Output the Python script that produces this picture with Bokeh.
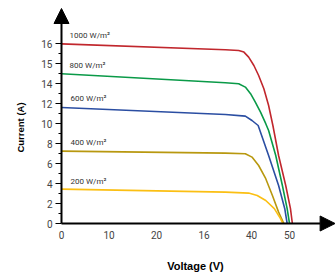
from bokeh.plotting import figure
from bokeh.models import (Range1d, FixedTicker, Arrow, NormalHead, Label,
                          ColumnDataSource)
from bokeh.core.properties import value
from bokeh.embed import file_html
from bokeh.resources import INLINE

# ---- data (x in axis units, y in axis position units) ----
irradiance_labels = ["1000 W/m²", "800 W/m²", "600 W/m²", "400 W/m²", "200 W/m²"]
colors = ["#c1272d", "#0a9a48", "#2b4ea2", "#b8980f", "#fbbf13"]

v_1000 = [0, 34.5, 37.3, 38.4, 39.4, 40.5, 41.5, 42.6, 43.6, 44.5, 45.7, 47.2, 48.2, 48.6]
i_1000 = [8.98, 8.69, 8.65, 8.57, 8.32, 7.9, 7.4, 6.74, 5.9, 4.9, 3.4, 1.9, 0.74, 0]

v_800 = [0, 34.5, 37.3, 38.7, 39.8, 40.8, 41.9, 43.0, 43.6, 45.1, 46.5, 47.5, 48.0]
i_800 = [7.49, 7.04, 6.99, 6.82, 6.49, 6.07, 5.57, 4.99, 4.65, 3.4, 1.9, 0.74, 0]

v_600 = [0, 34.5, 38.7, 40.1, 41.4, 43.6, 45.7, 47.0, 47.5]
i_600 = [5.8, 5.45, 5.37, 5.15, 4.9, 3.4, 1.9, 0.74, 0]

v_400 = [0, 34.5, 38.7, 40.1, 41.5, 43.0, 44.4, 45.7, 46.8]
i_400 = [3.62, 3.52, 3.49, 3.32, 2.9, 2.24, 1.4, 0.57, 0]

v_200 = [0, 34.5, 39.4, 41.2, 43.0, 44.8, 46.1, 46.6]
i_200 = [1.72, 1.57, 1.52, 1.4, 1.15, 0.74, 0.24, 0]

label_x = [1.7, 1.7, 1.9, 1.9, 1.9]
label_y = [9.4, 7.9, 6.25, 4.05, 2.1]

y_tick_pos = [0, 1, 2, 3, 4, 5, 6, 7, 8, 9]
y_tick_labels = ["0", "2", "4", "6", "8", "10", "12", "14", "15", "16"]
x_tick_pos = [0, 10, 20, 30, 40, 48]
x_tick_labels = ["0", "10", "20", "16", "40", "50"]

x_title = "Voltage (V)"
y_title = "Current (A)"

# ---- figure ----
p = figure(width=335, height=275, output_backend="svg", toolbar_location=None,
           x_range=Range1d(-12.84, 57.68), y_range=Range1d(-2.6, 11.15),
           min_border_left=0, min_border_right=0, min_border_top=0,
           min_border_bottom=0)
p.outline_line_color = None
p.grid.visible = False
p.background_fill_color = "white"
p.border_fill_color = "white"

series = [(v_1000, i_1000), (v_800, i_800), (v_600, i_600), (v_400, i_400), (v_200, i_200)]
for (vx, iy), c in zip(series, colors):
    p.line(vx, iy, line_color=c, line_width=1.6)

src = ColumnDataSource(dict(x=label_x, y=label_y, t=irradiance_labels))
p.text(x="x", y="y", text="t", source=src, text_font=value("Roboto"),
       text_font_size="8px", text_color="#333333", text_baseline="middle",
       text_align="left")

# left axis, fixed at x = 0
ya = p.yaxis[0]
ya.fixed_location = 0
ya.ticker = FixedTicker(ticks=y_tick_pos,
                        minor_ticks=[0.5, 1.5, 2.5, 3.5, 4.5, 5.5, 6.5, 7.5, 8.5])
ya.major_label_overrides = {k: v for k, v in zip(y_tick_pos, y_tick_labels)}
ya.axis_line_color = None
ya.major_tick_out = 6
ya.major_tick_in = 0
ya.minor_tick_out = 3
ya.minor_tick_in = 0
ya.major_tick_line_color = "black"
ya.minor_tick_line_color = "black"
ya.major_label_standoff = 3
ya.major_label_text_font = "Roboto"
ya.major_label_text_font_size = "10px"
ya.major_label_text_color = "#444444"

# bottom axis, fixed at y = 0
xa = p.xaxis[0]
xa.fixed_location = 0
xa.ticker = FixedTicker(ticks=x_tick_pos, minor_ticks=[])
xa.major_label_overrides = {k: v for k, v in zip(x_tick_pos, x_tick_labels)}
xa.axis_line_color = None
xa.major_tick_out = 0
xa.major_tick_in = 0
xa.minor_tick_out = 0
xa.minor_tick_in = 0
xa.major_tick_line_color = None
xa.minor_tick_line_color = None
xa.major_label_standoff = 7
xa.major_label_text_font = "Roboto"
xa.major_label_text_font_size = "10px"
xa.major_label_text_color = "#444444"

# axis arrows
p.add_layout(Arrow(end=NormalHead(size=15, fill_color="black", line_color="black"),
                   x_start=0, y_start=0, x_end=0, y_end=10.75,
                   line_width=2, line_color="black"))
p.add_layout(Arrow(end=NormalHead(size=15, fill_color="black", line_color="black"),
                   x_start=0, y_start=0, x_end=57.6, y_end=0,
                   line_width=2, line_color="black"))

# axis titles
p.add_layout(Label(x=28.2, y=-2.1, text=x_title, text_font="Liberation Sans",
                   text_font_style="bold", text_font_size="11px",
                   text_color="black", text_align="center", text_baseline="middle"))
p.add_layout(Label(x=-8.6, y=4.8, text=y_title, text_font="Liberation Sans",
                   text_font_style="bold", text_font_size="9.5px", angle=1.5708,
                   text_color="black", text_align="center", text_baseline="middle"))

open("out.html", "w").write(file_html(p, INLINE))
